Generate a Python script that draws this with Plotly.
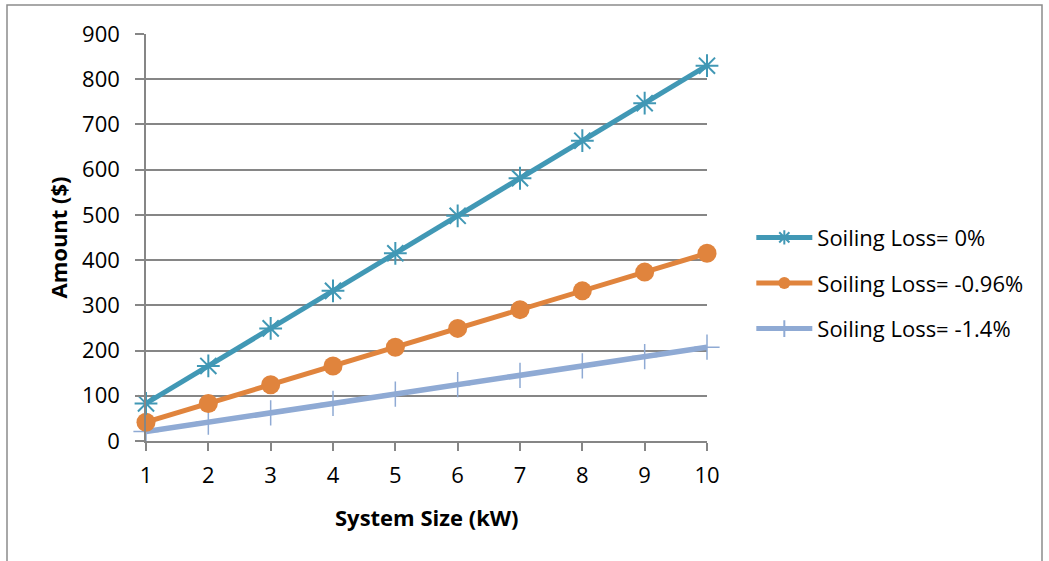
import plotly.graph_objects as go

system_size = [1, 2, 3, 4, 5, 6, 7, 8, 9, 10]
loss_0 = [83, 166, 249, 332, 415, 498, 581, 664, 747, 830]
loss_096 = [41.5, 83, 124.5, 166, 207.5, 249, 290.5, 332, 373.5, 415]
loss_14 = [20.75, 41.5, 62.25, 83, 103.75, 124.5, 145.25, 166, 186.75, 207.5]
names = ["Soiling Loss= 0%", "Soiling Loss= -0.96%", "Soiling Loss= -1.4%"]
x_title = "System Size (kW)"
y_title = "Amount ($)"

TEAL, ORANGE, BLUE = "#4198B5", "#E0843D", "#8FAAD4"
FONT = "Open Sans"
FS = 22
fig = go.Figure()
fig.add_trace(go.Scatter(x=system_size, y=loss_14, name=names[2], mode="lines+markers",
                         legendgroup="c", legendrank=3,
                         line=dict(color=BLUE, width=5.5),
                         marker=dict(symbol="cross-thin-open", size=18, line=dict(color=BLUE, width=1.5)),
                         cliponaxis=False))
fig.add_trace(go.Scatter(x=system_size, y=loss_096, name=names[1], mode="lines+markers",
                         legendgroup="b", legendrank=2,
                         line=dict(color=ORANGE, width=5),
                         marker=dict(symbol="circle", size=19, color=ORANGE),
                         cliponaxis=False))
fig.add_trace(go.Scatter(x=system_size, y=loss_0, name=names[0], mode="lines+markers",
                         legendgroup="a", legendrank=1,
                         line=dict(color=TEAL, width=5),
                         marker=dict(symbol="asterisk-open", size=19, line=dict(color=TEAL, width=2)),
                         cliponaxis=False))

fig.update_layout(
    width=1049, height=561,
    margin=dict(l=146, r=342, t=34, b=120, autoexpand=False),
    paper_bgcolor="white", plot_bgcolor="white",
    font=dict(family=FONT, size=FS, color="black"),
    showlegend=True,
    legend=dict(x=1.079, y=0.388, xanchor="left", yanchor="middle",
                traceorder="grouped", font=dict(size=FS, family=FONT),
                itemwidth=56, tracegroupgap=14, itemsizing="constant"),
    xaxis=dict(range=[1, 10], tickmode="array", tickvals=system_size,
               ticks="outside", ticklen=8, tickcolor="#868686", tickwidth=1.5,
               showline=True, linecolor="#868686", linewidth=1.5,
               showgrid=False, zeroline=False, automargin=False,
               tickfont=dict(size=FS), ticklabelstandoff=6),
    yaxis=dict(range=[0, 900], dtick=100, ticks="outside", ticklen=9,
               tickcolor="#868686", tickwidth=1.5,
               showline=True, linecolor="#868686", linewidth=1.5,
               showgrid=True, gridcolor="#868686", gridwidth=1.5, zeroline=False,
               automargin=False, tickfont=dict(size=FS), ticklabelstandoff=11),
    annotations=[
        dict(text="<b>" + x_title + "</b>", xref="paper", yref="paper",
             x=0.5, y=(441 - 517) / 407, xanchor="center", yanchor="middle",
             showarrow=False, font=dict(size=FS)),
        dict(text="<b>" + y_title + "</b>", xref="paper", yref="paper",
             x=(57 - 146) / 561, y=0.5, xanchor="center", yanchor="middle",
             textangle=-90, showarrow=False, font=dict(size=FS)),
    ],
    shapes=[dict(type="rect", xref="paper", yref="paper",
                 x0=(7 - 146) / 561, x1=(1042 - 146) / 561, y0=-0.35, y1=(441 - 5) / 407,
                 line=dict(color="#8C8C8C", width=1.5), fillcolor="rgba(0,0,0,0)", layer="below")],
)

fig.write_html("out.html", config={"displayModeBar": False},
               post_script="document.body.style.margin='0';")
